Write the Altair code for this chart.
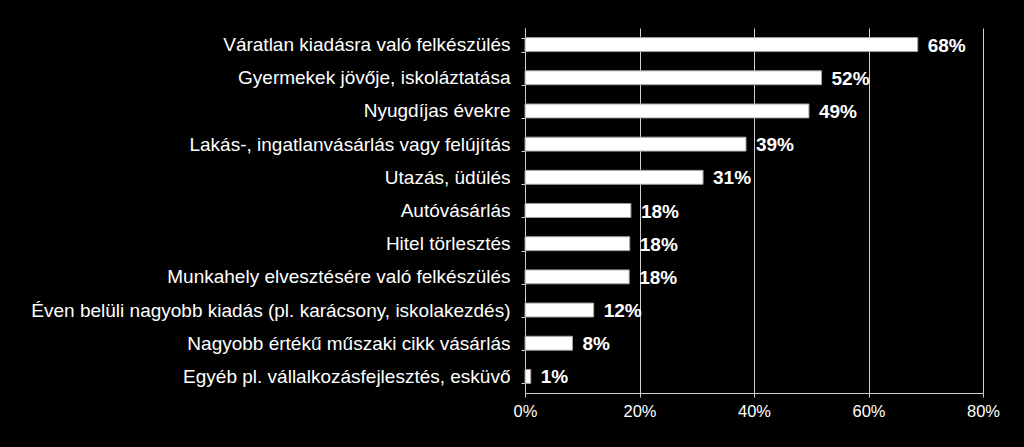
import altair as alt
import pandas as pd

categories = [
    "Váratlan kiadásra való felkészülés",
    "Gyermekek jövője, iskoláztatása",
    "Nyugdíjas évekre",
    "Lakás-, ingatlanvásárlás vagy felújítás",
    "Utazás, üdülés",
    "Autóvásárlás",
    "Hitel törlesztés",
    "Munkahely elvesztésére való felkészülés",
    "Éven belüli nagyobb kiadás (pl. karácsony, iskolakezdés)",
    "Nagyobb értékű műszaki cikk vásárlás",
    "Egyéb pl. vállalkozásfejlesztés, esküvő",
]
values = [68.6, 51.8, 49.6, 38.6, 31.1, 18.5, 18.3, 18.2, 12.0, 8.3, 1.0]
labels = ["68%", "52%", "49%", "39%", "31%", "18%", "18%", "18%", "12%", "8%", "1%"]

df = pd.DataFrame({"cat": categories, "val": values, "lab": labels})

FONT = "Liberation Sans"

y_enc = alt.Y(
    "cat:N",
    sort=categories,
    title=None,
    scale=alt.Scale(paddingInner=0.58, paddingOuter=0.29),
    axis=alt.Axis(
        labelFont=FONT,
        labelFontSize=19,
        labelColor="white",
        labelLimit=600,
        labelPadding=11,
        tickBand="extent",
        tickSize=4,
        tickColor="#d0d0d0",
        domainColor="#d0d0d0",
        grid=False,
    ),
)

x_enc = alt.X(
    "val:Q",
    title=None,
    scale=alt.Scale(domain=[0, 80], nice=False),
    axis=alt.Axis(
        values=[0, 20, 40, 60, 80],
        labelExpr="datum.value + '%'",
        labelFont=FONT,
        labelFontSize=16.5,
        labelColor="white",
        labelPadding=6,
        labelFlush=False,
        labelOverlap=False,
        tickSize=4,
        tickColor="#d0d0d0",
        domainColor="#d0d0d0",
        grid=True,
        gridColor="#d0d0d0",
        gridWidth=1,
    ),
)

bars = alt.Chart(df).mark_bar(
    color="white", stroke="#a0a0a0", strokeWidth=1
).encode(x=x_enc, y=y_enc)

text = alt.Chart(df).mark_text(
    align="left", baseline="middle", dx=10, dy=1,
    font=FONT, fontSize=19, fontWeight="bold", color="white",
).encode(x="val:Q", y=alt.Y("cat:N", sort=categories), text="lab:N")

chart = (
    alt.layer(bars, text)
    .properties(
        width=458,
        height=365,
        background="black",
        autosize="none",
        padding={"left": 525, "top": 28, "right": 41, "bottom": 54},
    )
    .configure_view(stroke=None)
)

chart.save("out.html", embed_options={"renderer": "svg", "actions": False})
